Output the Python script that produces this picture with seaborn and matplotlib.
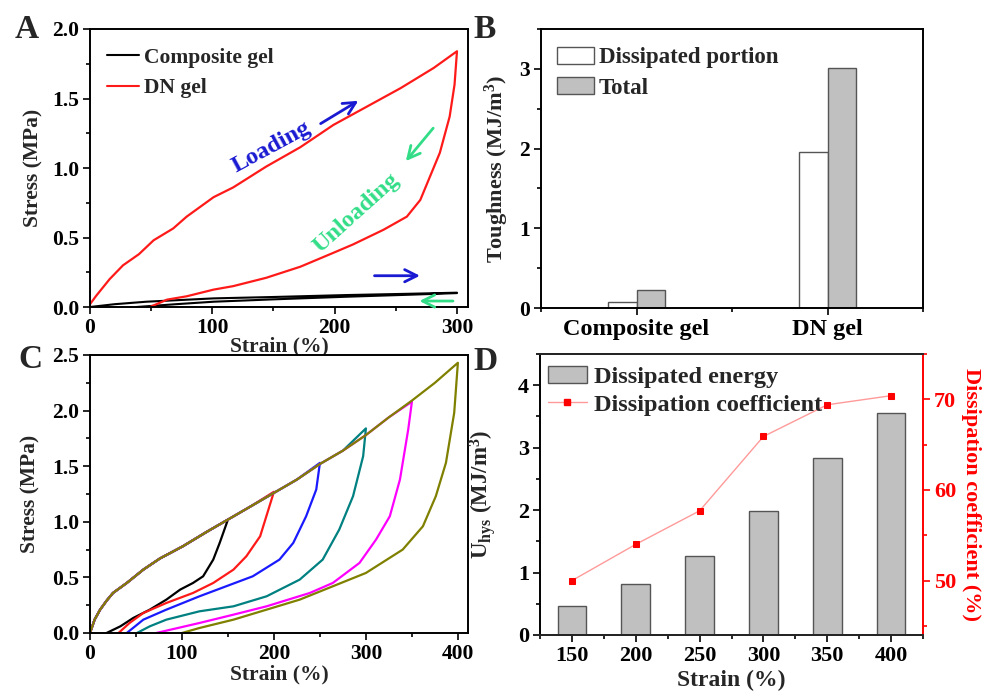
import numpy as np
import pandas as pd
import matplotlib
matplotlib.use("Agg")
import matplotlib.pyplot as plt
import seaborn as sns
from matplotlib.ticker import MultipleLocator, FormatStrFormatter
from matplotlib.patches import Patch
from matplotlib.lines import Line2D

# ---------------- data ----------------
# Panel A: DN gel loading / unloading (strain %, stress MPa)
dn_load_strain = [0, 5, 16, 27, 40, 52, 68, 79, 101, 117, 144, 172, 199, 226, 254, 281, 300]
dn_load_stress = [0.02, 0.08, 0.20, 0.30, 0.38, 0.48, 0.565, 0.65, 0.79, 0.86, 1.01, 1.15, 1.31, 1.44, 1.575, 1.72, 1.84]
dn_unload_strain = [300, 298, 294, 286, 278, 270, 259, 240, 215, 199, 172, 144, 117, 101, 79, 63, 49]
dn_unload_stress = [1.84, 1.60, 1.37, 1.11, 0.94, 0.77, 0.65, 0.556, 0.45, 0.39, 0.29, 0.21, 0.15, 0.125, 0.077, 0.053, 0.0]
# Panel A: composite gel
cg_load_strain = [0, 20, 46, 101, 150, 210, 260, 300]
cg_load_stress = [0.0, 0.02, 0.038, 0.062, 0.072, 0.086, 0.095, 0.103]
cg_unload_strain = [300, 260, 210, 150, 101, 70, 38]
cg_unload_stress = [0.100, 0.088, 0.074, 0.055, 0.038, 0.02, 0.0]

# Panel B: toughness
b_samples = ["Composite gel", "Composite gel", "DN gel", "DN gel"]
b_kinds = ["Dissipated portion", "Total", "Dissipated portion", "Total"]
b_values = [0.07, 0.22, 1.96, 3.01]

# Panel C: shared loading path
c_load_strain = [0, 5, 11, 18, 25, 40, 58, 76, 101, 127, 150, 175, 200, 225, 250, 275, 300, 325, 350, 375, 400]
c_load_stress = [0, 0.12, 0.21, 0.29, 0.36, 0.45, 0.57, 0.67, 0.78, 0.91, 1.02, 1.14, 1.26, 1.38, 1.52, 1.64, 1.78, 1.94, 2.09, 2.25, 2.43]
c_peak_strain = [150, 200, 250, 300, 350, 400]
c_peak_stress = [1.02, 1.27, 1.53, 1.84, 2.08, 2.43]
c_colors = ["#000000", "#ff1a1a", "#1a1aff", "#008080", "#ff00ff", "#808000"]
c_unload_strain = [
    [141, 134, 123, 112, 98, 83, 65, 47, 33, 18],
    [194, 185, 170, 156, 134, 112, 83, 58, 43, 31],
    [246, 235, 221, 206, 177, 148, 119, 83, 58, 40],
    [297, 286, 271, 253, 228, 192, 156, 119, 83, 65, 51],
    [346, 337, 326, 311, 293, 264, 239, 192, 156, 119, 72],
    [396, 387, 376, 362, 340, 300, 264, 228, 192, 156, 119, 100],
]
c_unload_stress = [
    [0.81, 0.66, 0.51, 0.45, 0.39, 0.30, 0.21, 0.135, 0.06, 0.0],
    [1.11, 0.87, 0.69, 0.57, 0.45, 0.36, 0.27, 0.18, 0.09, 0.0],
    [1.29, 1.05, 0.81, 0.66, 0.51, 0.42, 0.33, 0.21, 0.12, 0.0],
    [1.59, 1.23, 0.93, 0.66, 0.48, 0.33, 0.24, 0.195, 0.12, 0.06, 0.0],
    [1.83, 1.38, 1.05, 0.84, 0.63, 0.45, 0.36, 0.24, 0.165, 0.09, 0.0],
    [1.98, 1.53, 1.23, 0.96, 0.75, 0.54, 0.42, 0.30, 0.21, 0.12, 0.045, 0.0],
]

# Panel D
d_strain = [150, 200, 250, 300, 350, 400]
d_uhys = [0.46, 0.81, 1.27, 1.99, 2.83, 3.56]
d_coef = [50.0, 54.0, 57.7, 65.9, 69.4, 70.4]

# ---------------- style ----------------
sns.set_theme(style="ticks")
plt.rcParams.update({
    "font.family": ["Liberation Serif", "DejaVu Serif"],
    "font.weight": "bold",
    "axes.labelweight": "bold",
    "mathtext.fontset": "custom",
    "mathtext.rm": "Liberation Serif:bold",
    "mathtext.it": "Liberation Serif:bold",
    "mathtext.bf": "Liberation Serif:bold",
    "axes.linewidth": 1.4,
})

W, H = 986, 691
fig = plt.figure(figsize=(W / 100, H / 100), dpi=100)


def box(l, t, r, b):
    return [l / W, 1 - b / H, (r - l) / W, (b - t) / H]


axA = fig.add_axes(box(90, 29, 468, 307))
axB = fig.add_axes(box(541, 29, 923, 308))
axC = fig.add_axes(box(90, 355, 468, 633))
axD = fig.add_axes(box(540, 354, 923, 635))


def style(ax, size=15.5):
    for sp in ax.spines.values():
        sp.set_visible(True)
        sp.set_color("black")
        sp.set_linewidth(1.4)
    ax.tick_params(which="both", direction="out", width=1.2, labelsize=size,
                   top=False, right=False, colors="black", pad=3)
    ax.tick_params(which="major", length=5)
    ax.tick_params(which="minor", length=3)


# ---------------- Panel A ----------------
sns.lineplot(x=cg_load_strain + cg_unload_strain, y=cg_load_stress + cg_unload_stress,
             sort=False, estimator=None, color="black", lw=1.5, ax=axA)
sns.lineplot(x=dn_load_strain + dn_unload_strain, y=dn_load_stress + dn_unload_stress,
             sort=False, estimator=None, color="#ff1a1a", lw=1.6, ax=axA)
axA.set_xlim(0, 309)
axA.set_ylim(0, 2.0)
axA.xaxis.set_major_locator(MultipleLocator(100))
axA.xaxis.set_minor_locator(MultipleLocator(50))
axA.yaxis.set_major_locator(MultipleLocator(0.5))
axA.yaxis.set_minor_locator(MultipleLocator(0.25))
axA.yaxis.set_major_formatter(FormatStrFormatter("%.1f"))
style(axA)
axA.set_xlabel("Strain (%)", fontsize=15.5, labelpad=-1)
axA.set_ylabel("Stress (MPa)", fontsize=15.5, labelpad=6)
axA.legend(handles=[Line2D([], [], color="black", lw=1.5), Line2D([], [], color="#ff1a1a", lw=1.5)],
           labels=["Composite gel", "DN gel"], loc="upper left", bbox_to_anchor=(-0.006, 1.003),
           frameon=False, fontsize=15.5, handlelength=1.5, handletextpad=0.2, labelspacing=0.5)

blue = "#1a1ad2"
green = "#33dd88"
axA.text(148.5, 1.153, "Loading", color=blue, fontsize=17.5, rotation=28.5,
         ha="center", va="center", fontweight="bold")
axA.text(217.5, 0.674, "Unloading", color=green, fontsize=17.5, rotation=42,
         ha="center", va="center", fontweight="bold")
arrow_kw = dict(arrowstyle="->", lw=2, mutation_scale=22)
axA.annotate("", xy=(221.3, 1.494), xytext=(186.6, 1.309), arrowprops=dict(color=blue, **arrow_kw))
axA.annotate("", xy=(256.7, 1.034), xytext=(282, 1.302), arrowprops=dict(color=green, **arrow_kw))
axA.annotate("", xy=(272, 0.225), xytext=(230.3, 0.225), arrowprops=dict(color=blue, **arrow_kw))
axA.annotate("", xy=(267, 0.043), xytext=(299, 0.043), arrowprops=dict(color=green, **arrow_kw))

# ---------------- Panel B ----------------
dfB = pd.DataFrame({"sample": b_samples, "kind": b_kinds, "value": b_values})
pal = {"Dissipated portion": "white", "Total": "#c0c0c0"}
sns.barplot(data=dfB, x="sample", y="value", hue="kind", palette=pal, width=0.3,
            saturation=1, edgecolor="#555555", linewidth=1.0, ax=axB, legend=False)
axB.set_xlim(-0.5, 1.5)
axB.set_ylim(0, 3.5)
axB.yaxis.set_major_locator(MultipleLocator(1))
axB.yaxis.set_minor_locator(MultipleLocator(0.5))
axB.set_xticks([-0.5, 0.5, 1.5], minor=True)
style(axB)
axB.tick_params(axis="x", labelsize=17.5)
axB.set_xlabel("")
axB.set_ylabel("Toughness (MJ/m$^{3}$)", fontsize=16, labelpad=6)
axB.legend(handles=[Patch(facecolor="white", edgecolor="#555555", lw=1.0),
                    Patch(facecolor="#c0c0c0", edgecolor="#555555", lw=1.0)],
           labels=["Dissipated portion", "Total"], loc="upper left", bbox_to_anchor=(-0.011, 1.01),
           frameon=False, fontsize=16.5, handlelength=1.6, handleheight=0.75,
           handletextpad=0.2, labelspacing=0.4)

# ---------------- Panel C ----------------
for pk_s, pk_v, col, us, uv in zip(c_peak_strain, c_peak_stress, c_colors, c_unload_strain, c_unload_stress):
    ls = [s for s in c_load_strain if s < pk_s]
    lv = c_load_stress[:len(ls)]
    xs = ls + [pk_s] + us
    ys = lv + [pk_v] + uv
    sns.lineplot(x=xs, y=ys, sort=False, estimator=None, color=col, lw=1.6, ax=axC)
axC.set_xlim(0, 411)
axC.set_ylim(0, 2.5)
axC.xaxis.set_major_locator(MultipleLocator(100))
axC.xaxis.set_minor_locator(MultipleLocator(50))
axC.yaxis.set_major_locator(MultipleLocator(0.5))
axC.yaxis.set_minor_locator(MultipleLocator(0.25))
axC.yaxis.set_major_formatter(FormatStrFormatter("%.1f"))
style(axC)
axC.set_xlabel("Strain (%)", fontsize=15.5, labelpad=0)
axC.set_ylabel("Stress (MPa)", fontsize=15.5, labelpad=8)

# ---------------- Panel D ----------------
sns.barplot(x=d_strain, y=d_uhys, native_scale=True, width=0.45, color="#c0c0c0",
            saturation=1, edgecolor="#555555", linewidth=1.0, ax=axD)
axD.set_xlim(125, 425)
axD.set_ylim(0, 4.5)
axD.xaxis.set_major_locator(MultipleLocator(50))
axD.xaxis.set_minor_locator(MultipleLocator(25))
axD.xaxis.set_major_formatter(FormatStrFormatter("%d"))
axD.yaxis.set_major_locator(MultipleLocator(1))
axD.yaxis.set_minor_locator(MultipleLocator(0.5))
style(axD, size=16)
axD.spines["right"].set_visible(False)
axD.set_xlabel("Strain (%)", fontsize=17, labelpad=3)
axD.set_ylabel(r"U$_{\mathrm{hys}}$ (MJ/m$^{3}$)", fontsize=16.5, labelpad=14)

ax2 = axD.twinx()
sns.lineplot(x=d_strain, y=d_coef, ax=ax2, color="#ff9a9a", lw=1.0, marker="s", markersize=5,
             markerfacecolor="red", markeredgecolor="red")
ax2.set_ylim(44, 75)
ax2.yaxis.set_major_locator(MultipleLocator(10))
ax2.yaxis.set_minor_locator(MultipleLocator(5))
for sp in ax2.spines.values():
    sp.set_linewidth(1.4)
ax2.spines["right"].set_color("red")
ax2.spines["left"].set_visible(False)
ax2.tick_params(axis="y", which="both", direction="out", width=1.2, colors="red", labelsize=16,
                left=False, right=True, pad=3)
ax2.tick_params(which="major", length=5)
ax2.tick_params(which="minor", length=3)
ax2.set_ylabel("Dissipation coefficient (%)", color="red", fontsize=16, rotation=270,
               va="bottom", labelpad=3)
axD.set_xlim(125, 425)

ax2.legend(handles=[Patch(facecolor="#c0c0c0", edgecolor="#555555", lw=1.0),
                    Line2D([], [], color="#ff9a9a", lw=1.0, marker="s", markersize=5,
                           markerfacecolor="red", markeredgecolor="red")],
           labels=["Dissipated energy", "Dissipation coefficient"], loc="upper left",
           bbox_to_anchor=(-0.037, 1.036), frameon=False, fontsize=17.5, handlelength=1.6,
           handleheight=0.7, handletextpad=0.3, labelspacing=0.25)

# ---------------- panel letters ----------------
for letter, x, y in [("A", 27, 29), ("B", 485, 29), ("C", 30, 360), ("D", 485, 362)]:
    fig.text(x / W, 1 - y / H, letter, fontsize=24, fontweight="bold", ha="center", va="center")

fig.savefig("out.png", dpi=100)
